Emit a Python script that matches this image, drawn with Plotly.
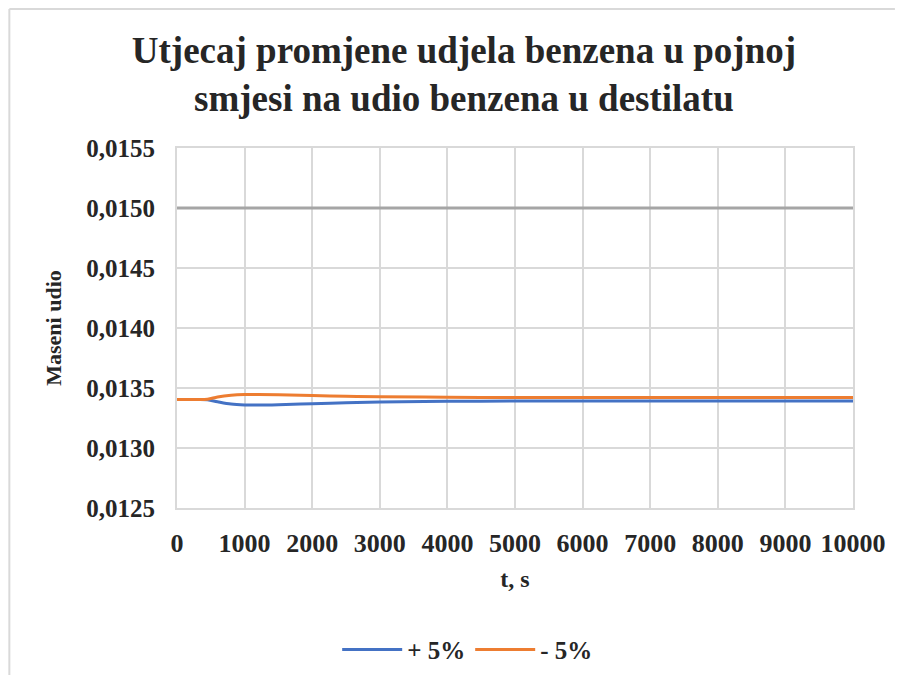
import plotly.graph_objects as go

# vrijeme, s
t = [0, 250, 450, 600, 800, 1000, 1200, 1500, 2000, 2500, 3000, 4000, 5000, 6000, 8000, 10000]
# maseni udio benzena u destilatu
plus5 = [0.013404, 0.013404, 0.013402, 0.013385, 0.013366, 0.013359, 0.013358, 0.013361,
         0.013369, 0.013377, 0.013383, 0.013389, 0.013391, 0.013392, 0.013392, 0.013392]
minus5 = [0.013404, 0.013404, 0.013406, 0.013425, 0.013440, 0.013446, 0.013446, 0.013443,
          0.013437, 0.013431, 0.013427, 0.013423, 0.013421, 0.013421, 0.013421, 0.013421]
granica = [0.0150] * len(t)

font_main = "Liberation Serif"
txt = "#262626"

fig = go.Figure()
fig.add_trace(go.Scatter(x=t, y=plus5, mode="lines", name="+ 5%",
                         line=dict(color="#4472C4", width=3, shape="spline")))
fig.add_trace(go.Scatter(x=t, y=minus5, mode="lines", name="- 5%",
                         line=dict(color="#ED7D31", width=3, shape="spline")))
fig.add_trace(go.Scatter(x=t, y=granica, mode="lines", name="granica", showlegend=False,
                         line=dict(color="#A5A5A5", width=3)))

fig.update_layout(
    width=887, height=668,
    paper_bgcolor="white", plot_bgcolor="white",
    margin=dict(l=169, r=42, t=140, b=168, autoexpand=False),
    separators=", ",
    font=dict(family=font_main, color=txt),
    title=dict(text="<b>Utjecaj promjene udjela benzena u pojnoj<br>smjesi na udio benzena u destilatu</b>",
               x=0.514, xanchor="center", y=0.918, yanchor="top",
               font=dict(size=37, color=txt, family=font_main)),
    xaxis=dict(range=[0, 10000], dtick=1000, tickformat="d", automargin=False,
               showgrid=True, gridcolor="#D9D9D9", gridwidth=2,
               zeroline=False, showline=True, linecolor="#D9D9D9", linewidth=2, mirror=True,
               ticks="", ticklabelstandoff=11,
               tickfont=dict(size=26, family=font_main, color=txt, weight="bold"),
               title=dict(text="<b>t, s</b>", font=dict(size=24, family=font_main, color=txt),
                          standoff=13)),
    yaxis=dict(range=[0.0125, 0.0155], dtick=0.0005, tickformat=".4f", automargin=False,
               showgrid=True, gridcolor="#D9D9D9", gridwidth=2,
               zeroline=False, showline=True, linecolor="#D9D9D9", linewidth=2, mirror=True,
               ticks="", ticklabelstandoff=15,
               tickfont=dict(size=25, family=font_main, color=txt, weight="bold"),
               title=dict(text="<b>Maseni udio</b>", font=dict(size=22, family=font_main, color=txt),
                          standoff=19)),
    legend=dict(orientation="h", x=0.43, xanchor="center", y=-0.33, yanchor="top",
                font=dict(size=25, family=font_main, color=txt, weight="bold"),
                itemwidth=60, traceorder="normal"),
    shapes=[
        dict(type="line", xref="paper", yref="paper", x0=-0.248, x1=1.062, y0=1.386, y1=1.386,
             line=dict(color="#D9D9D9", width=2)),
        dict(type="line", xref="paper", yref="paper", x0=-0.248, x1=-0.248, y0=-0.464, y1=1.386,
             line=dict(color="#D9D9D9", width=2)),
    ],
)

fig.write_html("out.html")
